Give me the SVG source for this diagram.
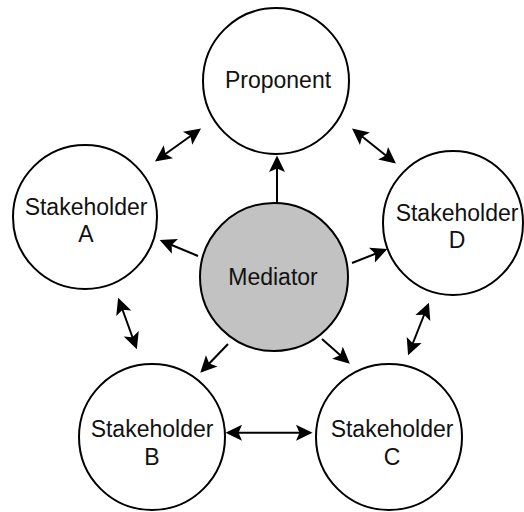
<svg xmlns="http://www.w3.org/2000/svg" width="524" height="512" viewBox="0 0 524 512">
<style>
.node circle,.node ellipse{fill:#ffffff;stroke:#000000;stroke-width:2}
#mediator circle{fill:#c2c2c2}
text{font-family:"Liberation Sans",Arial,sans-serif;font-size:23px;fill:#111111;text-anchor:middle}
#connectors line{stroke:#000000;stroke-width:2}
.both{marker-start:url(#ah);marker-end:url(#ah)}
.one{marker-end:url(#ah)}
</style>
<defs>
<marker id="ah" markerUnits="userSpaceOnUse" markerWidth="20" markerHeight="20" viewBox="0 -10 18 20" refX="14" refY="0" orient="auto-start-reverse">
<path d="M0,-8 L16.5,0 L0,8 L3.5,0 Z" fill="#000000"/>
</marker>
</defs>
<rect width="524" height="512" fill="#ffffff"/>
<g id="proponent" class="node"><circle cx="276" cy="81" r="73"/><text x="278" y="88">Proponent</text></g>
<g id="stakeholder-a" class="node"><circle cx="85" cy="217" r="72"/><text x="86" y="215">Stakeholder</text><text x="86" y="242">A</text></g>
<g id="stakeholder-d" class="node"><ellipse cx="453" cy="223" rx="70" ry="72"/><text x="457" y="221">Stakeholder</text><text x="457" y="248">D</text></g>
<g id="mediator" class="node"><circle cx="274" cy="277" r="74"/><text x="273" y="285">Mediator</text></g>
<g id="stakeholder-b" class="node"><circle cx="152" cy="437" r="73"/><text x="152" y="437">Stakeholder</text><text x="152" y="465">B</text></g>
<g id="stakeholder-c" class="node"><circle cx="389" cy="437" r="73"/><text x="392" y="437">Stakeholder</text><text x="392" y="465">C</text></g>
<g id="connectors">
<line class="both" x1="157" y1="160" x2="199" y2="130"/>
<line class="both" x1="354" y1="130" x2="394" y2="162"/>
<line class="both" x1="119" y1="300" x2="136" y2="347"/>
<line class="both" x1="428" y1="305" x2="409" y2="353"/>
<line class="both" x1="228" y1="432.7" x2="310" y2="432.7"/>
<line class="one" x1="277" y1="203" x2="277" y2="158"/>
<line class="one" x1="198" y1="256" x2="162" y2="241"/>
<line class="one" x1="352" y1="263" x2="385" y2="250"/>
<line class="one" x1="228" y1="344" x2="202" y2="371"/>
<line class="one" x1="322" y1="339" x2="348" y2="362"/>
</g>
</svg>
